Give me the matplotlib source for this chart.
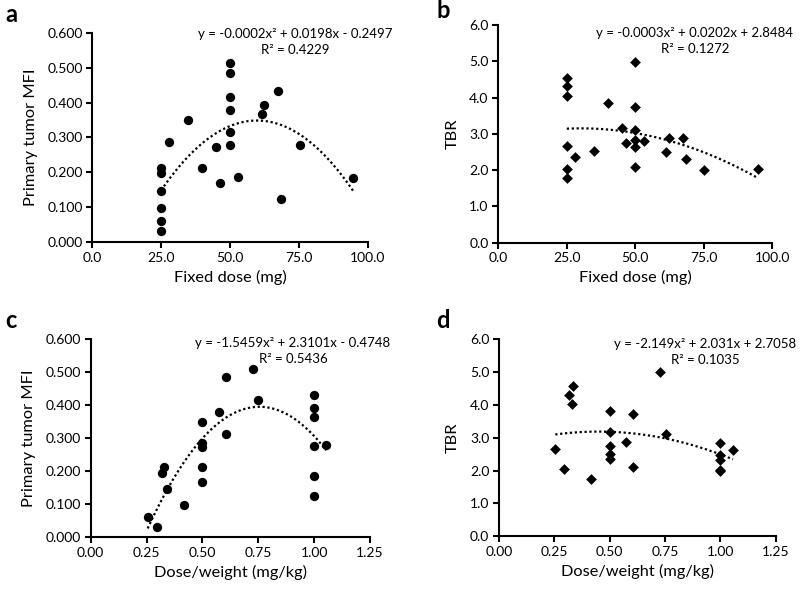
import numpy as np
import matplotlib
matplotlib.use("Agg")
import matplotlib.pyplot as plt
from matplotlib.ticker import FormatStrFormatter

plt.rcParams['font.family'] = ['Lato', 'DejaVu Sans']

# ---- data ----
fixed_dose_mfi = [25, 25, 25, 25, 25, 25, 27.8, 34.8, 40, 45.1, 46.4, 50, 50, 50, 50, 50, 50,
                  53.1, 61.5, 62.4, 67.6, 68.4, 75.3, 94.9]
mfi_fixed = [0.213, 0.198, 0.147, 0.099, 0.062, 0.033, 0.286, 0.349, 0.213, 0.272, 0.169,
             0.514, 0.485, 0.415, 0.378, 0.316, 0.279, 0.188, 0.367, 0.393, 0.433, 0.125,
             0.279, 0.183]

fixed_dose_tbr = [25, 25, 25, 25, 25, 25, 28, 34.9, 40.1, 45.3, 46.6, 50, 50, 50, 50, 50, 50,
                  53.2, 61.2, 62.4, 67.3, 68.6, 75.2, 94.9]
tbr_fixed = [4.55, 4.33, 4.04, 2.66, 2.03, 1.79, 2.35, 2.52, 3.84, 3.16, 2.74, 4.97, 3.73,
             3.10, 2.83, 2.63, 2.10, 2.81, 2.49, 2.89, 2.89, 2.31, 2.00, 2.04]

dose_wt_mfi = [0.255, 0.296, 0.319, 0.330, 0.340, 0.417, 0.50, 0.50, 0.50, 0.50, 0.50,
               0.576, 0.606, 0.606, 0.726, 0.751, 1.0, 1.0, 1.0, 1.0, 1.0, 1.0, 1.054]
mfi_wt = [0.061, 0.031, 0.193, 0.213, 0.147, 0.097, 0.348, 0.286, 0.272, 0.213, 0.166,
          0.380, 0.484, 0.313, 0.510, 0.414, 0.430, 0.392, 0.363, 0.275, 0.184, 0.124, 0.279]

dose_wt_tbr = [0.254, 0.295, 0.317, 0.335, 0.329, 0.417, 0.50, 0.50, 0.50, 0.50, 0.50,
               0.575, 0.606, 0.606, 0.727, 0.752, 1.0, 1.0, 1.0, 1.0, 1.0, 1.056]
tbr_wt = [2.67, 2.04, 4.30, 4.58, 4.03, 1.76, 3.83, 3.17, 2.75, 2.52, 2.34, 2.86, 3.71, 2.12,
          4.99, 3.10, 2.85, 2.47, 2.31, 2.02, 1.98, 2.62]

eq_a = "y = -0.0002x\u00b2 + 0.0198x - 0.2497\nR\u00b2 = 0.4229"
eq_b = "y = -0.0003x\u00b2 + 0.0202x + 2.8484\nR\u00b2 = 0.1272"
eq_c = "y = -1.5459x\u00b2 + 2.3101x - 0.4748\nR\u00b2 = 0.5436"
eq_d = "y = -2.149x\u00b2 + 2.031x + 2.7058\nR\u00b2 = 0.1035"

fig = plt.figure(figsize=(8, 5.9), dpi=100)

def panel(rect, x, y, marker, size, xlim, xticks, xfmt, ylim, yticks, yfmt, xlabel, ylabel,
          eq, eqpos, letter, letterpos):
    ax = fig.add_axes(rect)
    ax.scatter(x, y, marker=marker, s=size, color='black', zorder=3, clip_on=False, linewidths=0)
    coef = np.polyfit(x, y, 2)
    xs = np.linspace(min(x), max(x), 200)
    ax.plot(xs, np.polyval(coef, xs), color='black', linestyle=(0, (1, 1.2)), linewidth=1.6, zorder=2)
    ax.set_xlim(*xlim)
    ax.set_ylim(*ylim)
    ax.set_xticks(xticks)
    ax.set_yticks(yticks)
    ax.xaxis.set_major_formatter(FormatStrFormatter(xfmt))
    ax.yaxis.set_major_formatter(FormatStrFormatter(yfmt))
    for s in ['top', 'right']:
        ax.spines[s].set_visible(False)
    for s in ['left', 'bottom']:
        ax.spines[s].set_linewidth(1.5)
        ax.spines[s].set_color('black')
    ax.tick_params(direction='out', length=4, width=1.5, labelsize=10, colors='black', pad=3)
    ax.set_xlabel(xlabel, fontsize=11.8, labelpad=4)
    ax.set_ylabel(ylabel, fontsize=11.8, labelpad=7)
    fig.text(eqpos[0] / 800, 1 - eqpos[1] / 590, eq, ha='center', va='center', fontsize=9.5,
             linespacing=1.45)
    fig.text(letterpos[0] / 800, 1 - letterpos[1] / 590, letter, fontsize=17, fontweight='bold',
             ha='left', va='center')
    return ax

panel([0.1154, 0.5893, 0.344, 0.3553], fixed_dose_mfi, mfi_fixed, 'o', 45,
      (0, 100), [0, 25, 50, 75, 100], '%.1f', (0, 0.6), np.arange(0, 0.61, 0.1), '%.3f',
      'Fixed dose (mg)', 'Primary tumor MFI', eq_a, (295, 42), 'a', (5, 14))

panel([0.6229, 0.5886, 0.3425, 0.369], fixed_dose_tbr, tbr_fixed, 'D', 30,
      (0, 100), [0, 25, 50, 75, 100], '%.1f', (0, 6), np.arange(0, 6.1, 1), '%.1f',
      'Fixed dose (mg)', 'TBR', eq_b, (695, 41), 'b', (436, 11))

panel([0.1134, 0.0893, 0.349, 0.3366], dose_wt_mfi, mfi_wt, 'o', 45,
      (0, 1.25), [0, 0.25, 0.5, 0.75, 1.0, 1.25], '%.2f', (0, 0.6), np.arange(0, 0.61, 0.1), '%.3f',
      'Dose/weight (mg/kg)', 'Primary tumor MFI', eq_c, (293, 351), 'c', (5, 320))

panel([0.6238, 0.0910, 0.346, 0.334], dose_wt_tbr, tbr_wt, 'D', 30,
      (0, 1.25), [0, 0.25, 0.5, 0.75, 1.0, 1.25], '%.2f', (0, 6), np.arange(0, 6.1, 1), '%.1f',
      'Dose/weight (mg/kg)', 'TBR', eq_d, (705, 352), 'd', (436, 320))

fig.savefig('out.png', dpi=100)
